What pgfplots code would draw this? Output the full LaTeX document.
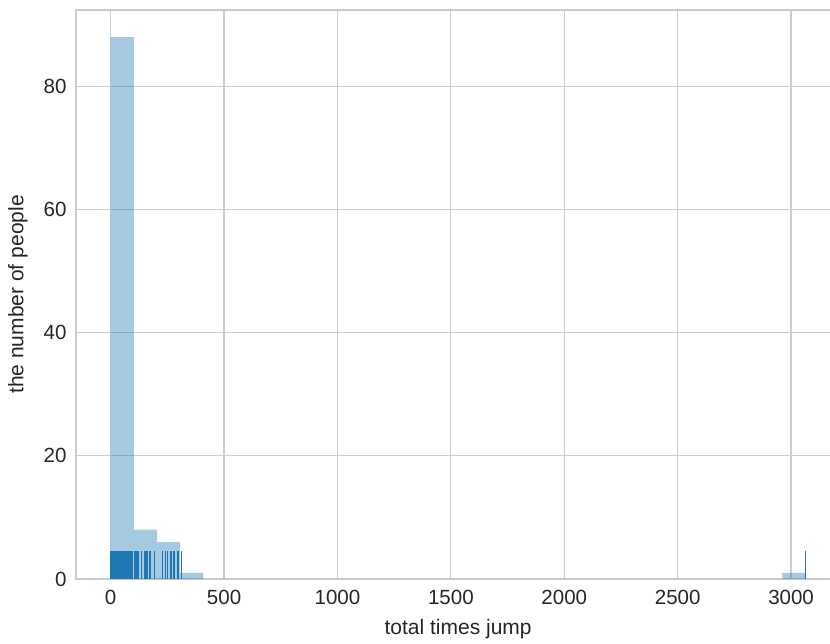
\documentclass[border=0pt]{standalone}
\usepackage{pgfplots}
\pgfplotsset{compat=1.18}
\usepackage{fontspec}
\setmainfont{Liberation Sans}
\definecolor{barblue}{HTML}{1F77B4}
\definecolor{gridgray}{HTML}{CCCCCC}
\definecolor{txt}{HTML}{262626}
\begin{document}
\begin{tikzpicture}
\begin{axis}[
  scale only axis, width=764.3pt, height=569pt,
  xmin=-153, xmax=3217, ymin=0, ymax=92.4,
  xtick={0,500,1000,1500,2000,2500,3000},
  ytick={0,20,40,60,80},
  grid=major,
  major grid style={gridgray, line width=1.2pt},
  axis line style={gridgray, line width=1.3pt},
  major tick length=0pt,
  /pgf/number format/assume math mode=true,
  scaled x ticks=false,
  xticklabel style={/pgf/number format/1000 sep={}, font=\fontsize{20.5}{24}\selectfont, text=txt, yshift=-8pt},
  yticklabel style={font=\fontsize{20.5}{24}\selectfont, text=txt, xshift=-6pt},
  xlabel={total times jump}, ylabel={the number of people},
  every axis x label/.style={at={(rel axis cs:0.5,0)}, anchor=center, yshift=-50pt, font=\fontsize{21}{25}\selectfont, text=txt},
  every axis y label/.style={at={(rel axis cs:0,0.5)}, anchor=center, rotate=90, yshift=58pt, font=\fontsize{21}{25}\selectfont, text=txt},
]
\coordinate (sw) at (rel axis cs:0,0);
\coordinate (nw) at (rel axis cs:0,1);
% histogram (30 bins of width 102.13 between 0 and 3064)
\addplot[const plot, draw=none, fill=barblue, fill opacity=0.4]
  coordinates {(0,88) (102.13,8) (204.27,6) (306.4,1) (408.53,1)} \closedcycle;
\addplot[const plot, draw=none, fill=barblue, fill opacity=0.4]
  coordinates {(2961.87,1) (3064,1)} \closedcycle;
% rug
\addplot[ycomb, barblue, line width=1.6pt, mark=none] table[row sep=\\] {
x y\\
0 4.6\\ 1 4.6\\ 2 4.6\\ 3 4.6\\ 4 4.6\\ 5 4.6\\ 6 4.6\\ 8 4.6\\ 9 4.6\\ 10 4.6\\
11 4.6\\ 12 4.6\\ 13 4.6\\ 14 4.6\\ 16 4.6\\ 17 4.6\\ 18 4.6\\ 19 4.6\\ 20 4.6\\ 21 4.6\\
22 4.6\\ 24 4.6\\ 25 4.6\\ 26 4.6\\ 27 4.6\\ 28 4.6\\ 29 4.6\\ 30 4.6\\ 32 4.6\\ 33 4.6\\
34 4.6\\ 35 4.6\\ 36 4.6\\ 37 4.6\\ 38 4.6\\ 39 4.6\\ 40 4.6\\ 41 4.6\\ 42 4.6\\ 43 4.6\\
45 4.6\\ 46 4.6\\ 47 4.6\\ 48 4.6\\ 49 4.6\\ 50 4.6\\ 51 4.6\\ 53 4.6\\ 54 4.6\\ 55 4.6\\
56 4.6\\ 57 4.6\\ 58 4.6\\ 59 4.6\\ 60 4.6\\ 62 4.6\\ 63 4.6\\ 64 4.6\\ 65 4.6\\ 66 4.6\\
67 4.6\\ 68 4.6\\ 69 4.6\\ 71 4.6\\ 72 4.6\\ 73 4.6\\ 74 4.6\\ 75 4.6\\ 76 4.6\\ 77 4.6\\
78 4.6\\ 80 4.6\\ 81 4.6\\ 82 4.6\\ 83 4.6\\ 84 4.6\\ 85 4.6\\ 86 4.6\\ 87 4.6\\ 89 4.6\\
90 4.6\\ 91 4.6\\ 92 4.6\\ 93 4.6\\ 94 4.6\\ 95 4.6\\ 96 4.6\\ 97 4.6\\
108 4.6\\ 112 4.6\\ 120 4.6\\ 135 4.6\\ 150 4.6\\ 160 4.6\\ 173 4.6\\ 194 4.6\\
229 4.6\\ 242 4.6\\ 250 4.6\\ 267 4.6\\ 279 4.6\\ 297 4.6\\
312 4.6\\
3064 4.6\\
};
\end{axis}
\pgfresetboundingbox
\path[use as bounding box] ([xshift=-76pt,yshift=-64pt]sw) rectangle ([xshift=754pt,yshift=10pt]nw);
\end{tikzpicture}
\end{document}
